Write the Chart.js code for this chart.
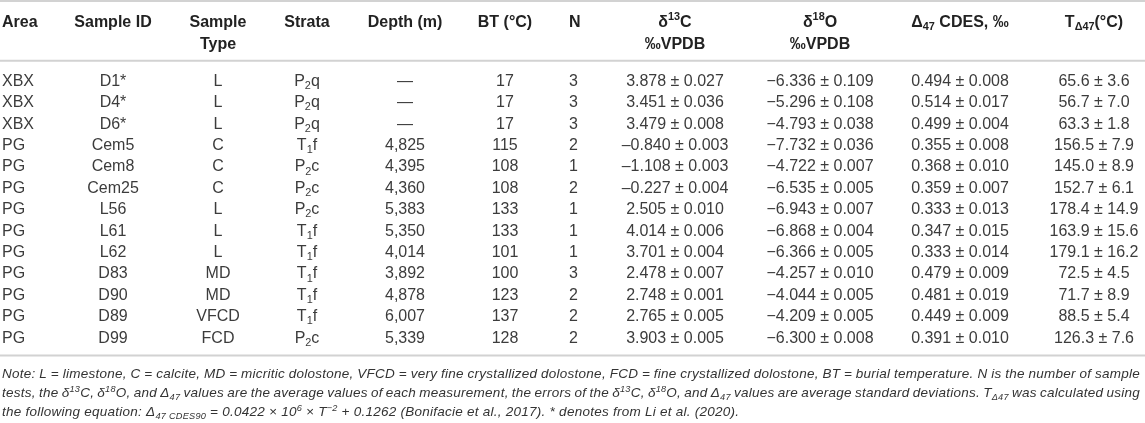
<!DOCTYPE html>
<html><head><meta charset="utf-8">
<script src="https://cdn.jsdelivr.net/npm/chart.js@4/dist/chart.umd.min.js"></script>
<style>html,body{margin:0;padding:0;background:#fff;overflow:hidden}#wrap{width:1145px;height:423px;position:relative}</style>
</head><body><div id="wrap"><canvas id="c"></canvas></div>
<script>
// ---- data ----
const areas = ["XBX","XBX","XBX","PG","PG","PG","PG","PG","PG","PG","PG","PG","PG"];
const sampleIds = ["D1*","D4*","D6*","Cem5","Cem8","Cem25","L56","L61","L62","D83","D90","D89","D99"];
const sampleTypes = ["L","L","L","C","C","C","L","L","L","MD","MD","VFCD","FCD"];
const strata = ["P_{2}q","P_{2}q","P_{2}q","T_{1}f","P_{2}c","P_{2}c","P_{2}c","T_{1}f","T_{1}f","T_{1}f","T_{1}f","T_{1}f","P_{2}c"];
const depths = [null,null,null,4825,4395,4360,5383,5350,4014,3892,4878,6007,5339];
const burialT = [17,17,17,115,108,108,133,133,101,100,123,137,128];
const nTests = [3,3,3,2,1,2,1,1,1,3,2,2,2];
const d13C = [3.878,3.451,3.479,-0.840,-1.108,-0.227,2.505,4.014,3.701,2.478,2.748,2.765,3.903];
const d13CErr = [0.027,0.036,0.008,0.003,0.003,0.004,0.010,0.006,0.004,0.007,0.001,0.005,0.005];
const d18O = [-6.336,-5.296,-4.793,-7.732,-4.722,-6.535,-6.943,-6.868,-6.366,-4.257,-4.044,-4.209,-6.300];
const d18OErr = [0.109,0.108,0.038,0.036,0.007,0.005,0.007,0.004,0.005,0.010,0.005,0.005,0.008];
const d47 = [0.494,0.514,0.499,0.355,0.368,0.359,0.333,0.347,0.333,0.479,0.481,0.449,0.391];
const d47Err = [0.008,0.017,0.004,0.008,0.010,0.007,0.013,0.015,0.014,0.009,0.019,0.009,0.010];
const tD47 = [65.6,56.7,63.3,156.5,145.0,152.7,178.4,163.9,179.1,72.5,71.7,88.5,126.3];
const tD47Err = [3.6,7.0,1.8,7.9,8.9,6.1,14.9,15.6,16.2,4.5,8.9,5.4,7.6];
const headerLine1 = ["Area","Sample ID","Sample","Strata","Depth (m)","BT (°C)","N","δ^{13}C","δ^{18}O","Δ_{47} CDES, ‰","T_{Δ47}(°C)"];
const headerLine2 = ["","","Type","","","","","‰VPDB","‰VPDB","",""];
const noteLines = [
 "Note: L = limestone, C = calcite, MD = micritic dolostone, VFCD = very fine crystallized dolostone, FCD = fine crystallized dolostone, BT = burial temperature. N is the number of sample",
 "tests, the δ^{13}C, δ^{18}O, and Δ_{47} values are the average values of each measurement, the errors of the δ^{13}C, δ^{18}O, and Δ_{47} values are average standard deviations. T_{Δ47} was calculated using",
 "the following equation: Δ_{47 CDES90} = 0.0422 × 10^{6} × T^{−2} + 0.1262 (Bonifacie et al., 2017). * denotes from Li et al. (2020)."
];

// ---- layout (not data) ----
const colX = [2,113,218,307,405,505,569,675,820,960,1094];
const colAlign = ["left","center","center","center","center","center","left","center","center","center","center"];

const pm = (v,e,d) => (v<0?"–":"") + Math.abs(v).toFixed(d) + " ± " + e.toFixed(d);
const pmO = (v,e,d) => (v<0?"−":"") + Math.abs(v).toFixed(d) + " ± " + e.toFixed(d);
const fmtDepth = v => v===null ? "—" : v.toLocaleString("en-US");

function rowCells(i){
  return [areas[i], sampleIds[i], sampleTypes[i], strata[i], fmtDepth(depths[i]), String(burialT[i]), String(nTests[i]),
    pm(d13C[i],d13CErr[i],3), pmO(d18O[i],d18OErr[i],3), pm(d47[i],d47Err[i],3), pm(tD47[i],tD47Err[i],1)];
}

function parseRich(s){
  const out=[]; const re=/([\^_])\{([^}]*)\}/g; let last=0,m;
  while((m=re.exec(s))){ if(m.index>last) out.push({t:s.slice(last,m.index),m:0}); out.push({t:m[2],m:m[1]==='^'?1:2}); last=re.lastIndex; }
  if(last<s.length) out.push({t:s.slice(last),m:0});
  return out;
}
function drawRich(ctx,s,x,y,align,f,justifyW){
  const segs=parseRich(s);
  const big=`${f.style} ${f.weight} ${f.size}px ${f.family}`;
  const small=`${f.style} ${f.weight} ${(f.size*0.68).toFixed(2)}px ${f.family}`;
  ctx.letterSpacing = (f.ls||0)+'px';
  let w=0,spaces=0;
  segs.forEach(g=>{ctx.font=g.m?small:big; g.w=ctx.measureText(g.t).width; w+=g.w; if(!g.m) spaces+=(g.t.match(/ /g)||[]).length;});
  let extra=0; if(justifyW && spaces) extra=(justifyW-w)/spaces;
  let cx = align==='center' ? x-w/2 : x;
  ctx.textAlign='left'; ctx.textBaseline='alphabetic';
  const base = y + f.size*0.36;
  segs.forEach(g=>{
    ctx.font=g.m?small:big;
    const dy = g.m===1 ? -f.size*0.38 : g.m===2 ? f.size*0.2 : 0;
    if(extra && !g.m){
      const parts=g.t.split(' ');
      const sw=ctx.measureText(' ').width;
      parts.forEach((p,k)=>{ ctx.fillText(p,cx,base+dy); cx+=ctx.measureText(p).width; if(k<parts.length-1) cx+=sw+extra; });
    } else { ctx.fillText(g.t,cx,base+dy); cx+=g.w; }
  });
  ctx.letterSpacing='0px';
}

const tablePlugin = {
  id:'tableText',
  afterDraw(chart){
    const ctx=chart.ctx, xs=chart.scales.x, ys=chart.scales.y, ca=chart.chartArea;
    ctx.save();
    ctx.strokeStyle='#d2d2d2'; ctx.lineWidth=2;
    const rule = yy => { ctx.beginPath(); ctx.moveTo(0,yy); ctx.lineTo(chart.width,yy); ctx.stroke(); };
    rule(1); rule(ca.top-8.5); rule(ca.bottom+8);
    const hf={style:'normal',weight:'bold',size:16,family:'"Liberation Sans", Arial, sans-serif'};
    ctx.fillStyle='#222';
    headerLine1.forEach((h,j)=>{ drawRich(ctx,h,xs.getPixelForValue(colX[j]),ca.top-48.5,colAlign[j],hf); });
    headerLine2.forEach((h,j)=>{ if(h) drawRich(ctx,h,xs.getPixelForValue(colX[j]),ca.top-26,colAlign[j],hf); });
    const bf={style:'normal',weight:'normal',size:16,family:'"Liberation Sans", Arial, sans-serif'};
    ctx.fillStyle='#3c3c3c';
    sampleIds.forEach((id,i)=>{
      const yy=ys.getPixelForValue(i);
      rowCells(i).forEach((c,j)=>drawRich(ctx,c,xs.getPixelForValue(colX[j]),yy,colAlign[j],bf));
    });
    const nf={style:'italic',weight:'normal',size:13.5,family:'"Liberation Sans", Arial, sans-serif',ls:0.25};
    ctx.fillStyle='#333';
    noteLines.forEach((l,k)=>drawRich(ctx,l,2,ca.bottom+25.5+k*19,'left',nf,k<2?1138:0));
    ctx.restore();
  }
};

new Chart(document.getElementById('c'),{
  type:'scatter',
  data:{datasets:[]},
  options:{
    responsive:true, maintainAspectRatio:false, animation:false,
    layout:{padding:{top:69.3,bottom:75.5,left:0,right:0}},
    plugins:{legend:{display:false},tooltip:{enabled:false}},
    scales:{
      x:{type:'linear',min:0,max:1145,display:false},
      y:{type:'category',labels:sampleIds,offset:true,display:false}
    }
  },
  plugins:[tablePlugin]
});
</script></body></html>
